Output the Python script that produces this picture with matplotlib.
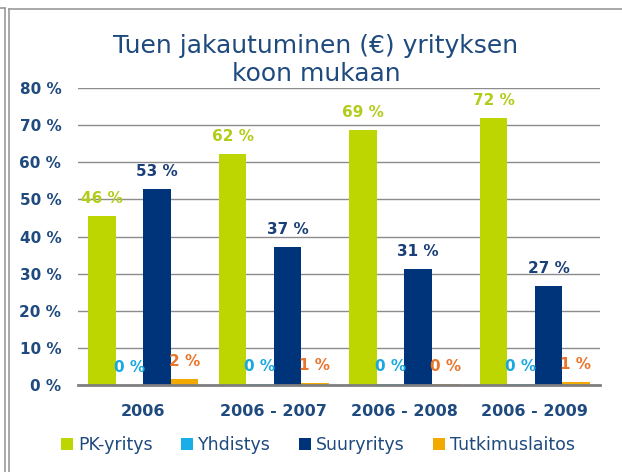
import matplotlib.pyplot as plt
import numpy as np
from matplotlib.patches import Patch
from matplotlib.lines import Line2D

# data
periods = ["2006", "2006 - 2007", "2006 - 2008", "2006 - 2009"]
series_names = ["PK-yritys", "Yhdistys", "Suuryritys", "Tutkimuslaitos"]
pk = [45.6, 62.2, 68.7, 72.0]
yhdistys = [0.0, 0.3, 0.3, 0.3]
suur = [52.8, 37.2, 31.2, 26.7]
tutkimus = [1.7, 0.6, 0.4, 0.8]
labels_pk = [46, 62, 69, 72]
labels_yh = [0, 0, 0, 0]
labels_su = [53, 37, 31, 27]
labels_tu = [2, 1, 0, 1]

bar_colors = ["#BDD500", "#1AAEE6", "#00347A", "#F2A900"]
label_colors = ["#B3CC1A", "#1AA8E0", "#1B3F78", "#E8762D"]
txt_color = "#1F4A7E"

fig = plt.figure(figsize=(6.22, 4.72), dpi=100)
ax = fig.add_axes([78 / 622, 1 - 385 / 472, 522 / 622, 297 / 472])

x = np.arange(len(periods))
w = 0.21
all_vals = [pk, yhdistys, suur, tutkimus]
all_labels = [labels_pk, labels_yh, labels_su, labels_tu]
for i, (vals, labs) in enumerate(zip(all_vals, all_labels)):
    pos = x + (i - 1.5) * w
    ax.bar(pos, vals, width=w, color=bar_colors[i], zorder=2)
    for px, v, lab in zip(pos, vals, labs):
        ax.annotate(f"{lab} %", (px, v), xytext=(0, 7), textcoords="offset points",
                    ha="center", va="bottom", color=label_colors[i],
                    fontsize=11, fontweight="bold", zorder=3)

ax.set_xlim(-0.5, 3.5)
ax.set_ylim(0, 80)
ax.set_yticks(range(0, 81, 10))
ax.set_yticklabels([f"{t} %" for t in range(0, 81, 10)])
ax.set_xticks(x)
ax.set_xticklabels(periods)
ax.yaxis.grid(True, color="#8C8C8C", linewidth=1.0, zorder=0)
ax.set_axisbelow(True)
for s in ["top", "right", "left"]:
    ax.spines[s].set_visible(False)
ax.spines["bottom"].set_color("#7F7F7F")
ax.spines["bottom"].set_linewidth(2)
ax.tick_params(axis="both", length=0, labelcolor=txt_color, labelsize=11)
ax.tick_params(axis="x", labelsize=11.5)
ax.tick_params(axis="y", pad=12)
ax.tick_params(axis="x", pad=14)
for t in ax.get_xticklabels() + ax.get_yticklabels():
    t.set_fontweight("bold")

fig.text(316 / 622, 1 - 60 / 472, "Tuen jakautuminen (€) yrityksen\nkoon mukaan",
         ha="center", va="center", fontsize=18, color=txt_color, linespacing=1.25)

handles = [Patch(facecolor=c, edgecolor="none") for c in bar_colors]
fig.legend(handles, series_names, loc="center", bbox_to_anchor=(318 / 622, 1 - 445 / 472),
           ncol=4, frameon=False, fontsize=12.5, labelcolor=txt_color,
           handlelength=0.7, handleheight=0.7, handletextpad=0.3, columnspacing=1.6)

# slide frame lines
def px_line(xs, ys):
    fig.add_artist(Line2D([a / 622 for a in xs], [1 - b / 472 for b in ys],
                          color="#9A9A9A", linewidth=1.2))

px_line([5, 5], [8, 472])
px_line([0, 5], [8, 8])
px_line([8.5, 8.5], [8.5, 472])
px_line([8.5, 622], [8.5, 8.5])

fig.savefig("out.png", dpi=100)
